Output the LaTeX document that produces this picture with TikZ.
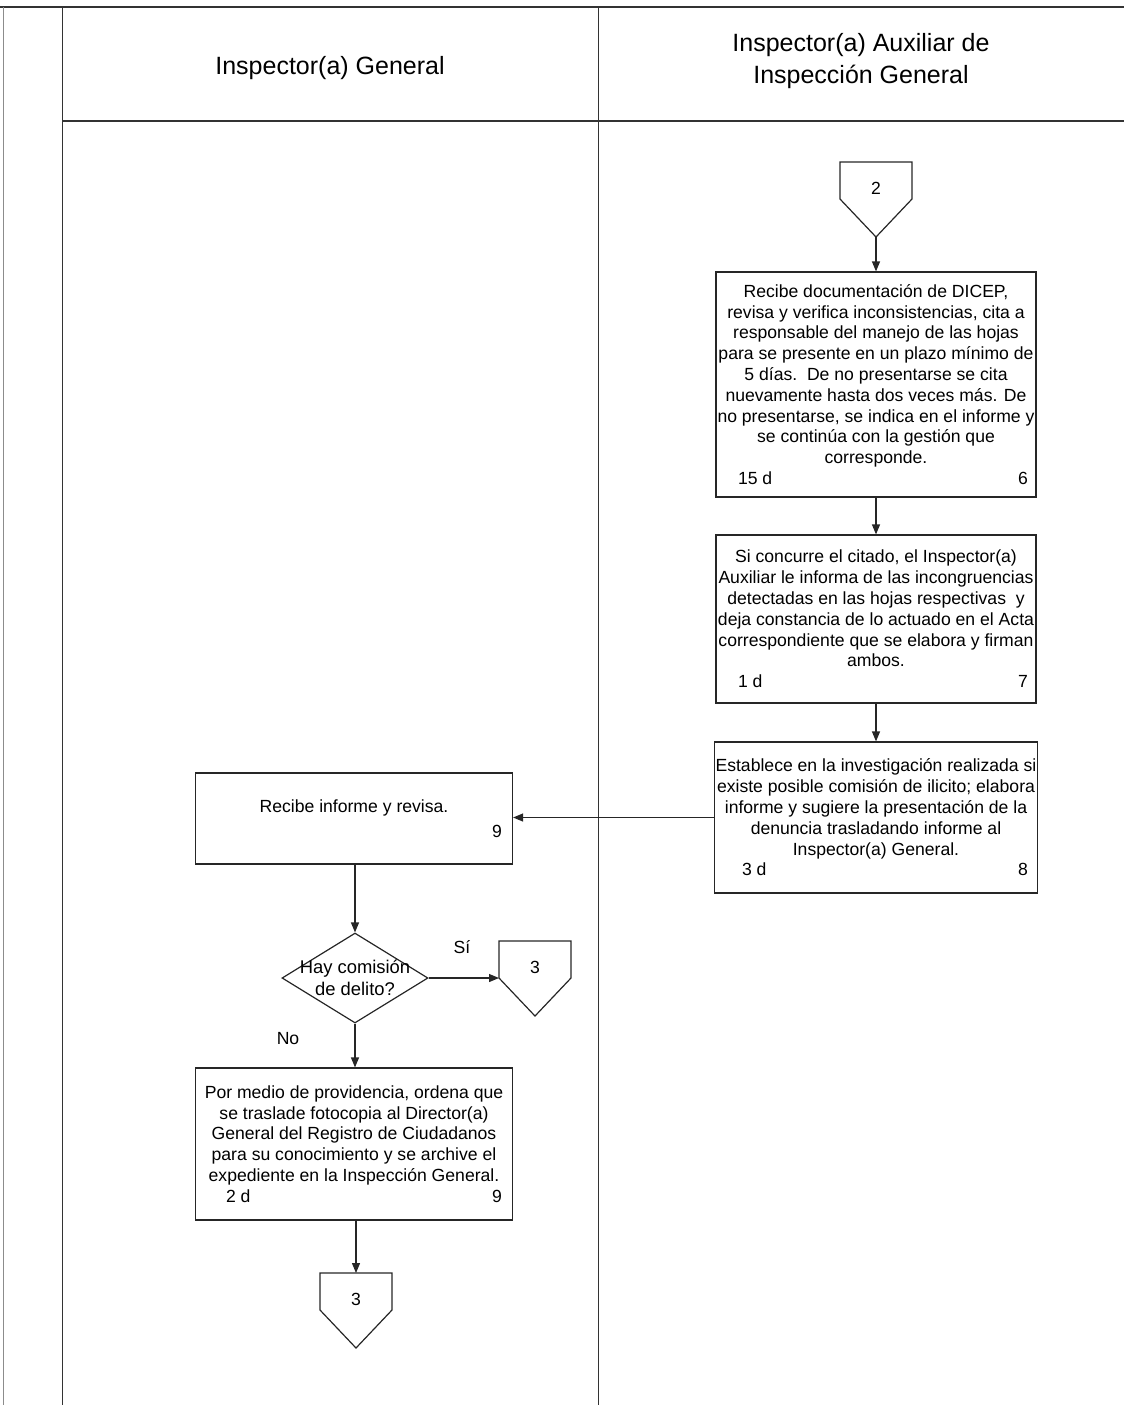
\documentclass[tikz,border=0pt]{standalone}
\usepackage{fontspec}
\setmainfont{Liberation Sans}
\usepackage{tikz}
\usetikzlibrary{arrows.meta}
\usetikzlibrary{shapes.geometric}

% off-page connector: name, centre x, top y, label
\newcommand{\offpage}[4]{%
  \draw[shape line] (#2-36,#3) -- (#2+36,#3) -- (#2+36,#3+37) -- (#2,#3+75) -- (#2-36,#3+37) -- cycle;
  \node[txt] (#1) at (#2,#3+26) {#4};
  \coordinate (#1 top) at (#2,#3);
  \coordinate (#1 left) at (#2-36,#3+37);
  \coordinate (#1 tip) at (#2,#3+75);
}
% last line of a box: time, step number
\newcommand{\stepline}[4]{\makebox[#1]{\hspace*{#2}#3\hfill #4\hspace*{3pt}}}

\begin{document}
\begin{tikzpicture}[x=0.5pt,y=-0.5pt]
\tikzset{shape line/.style={draw=black!85,line width=0.6pt}}
\tikzset{txt/.style={font=\fontsize{8.8}{10.4}\selectfont,inner sep=0pt}}
\tikzset{box/.style={shape line,align=center,inner xsep=0.5pt,inner ysep=0pt,
    minimum width=160pt,font=\fontsize{8.8}{10.4}\selectfont}}
\tikzset{flow/.style={draw=black!85,line width=0.6pt,-{Triangle[length=5pt,width=4pt]}}}
\tikzset{lane/.style={draw=black!80,line width=0.5pt}}
\tikzset{head/.style={font=\fontsize{12.5}{16}\selectfont,align=center}}
\useasboundingbox (0,0) rectangle (1124,1405);

% lanes
\draw[lane,line width=1.2pt] (0,7) -- (1124,7);
\draw[lane,line width=1pt] (62,121) -- (1124,121);
\draw[lane,draw=black!45,line width=0.4pt] (3,7) -- (3,1405);
\draw[lane] (62,7) -- (62,1405);
\draw[lane] (598,7) -- (598,1405);
\node[head] (lgen) at (330,68) {Inspector(a) General};
\node[head] (laux) at (861,61) {Inspector(a) Auxiliar de\\Inspección General};

% right lane
\offpage{c2}{876}{162}{2}
\node[box,minimum height=112.5pt] (b6) at (876,384.5) {Recibe documentación de  DICEP,\\
revisa y verifica inconsistencias, cita a\\
responsable del manejo de las hojas\\
para se presente en un plazo mínimo de\\
5 días.\ \ De no presentarse se cita\\
nuevamente hasta dos veces más. De\\
no presentarse, se indica en el informe y\\
se continúa con la gestión que\\
corresponde.\\
\stepline{158pt}{10pt}{15 d}{6}};
\node[box,minimum height=84pt] (b7) at (876,619) {Si concurre el citado, el Inspector(a)\\
Auxiliar le informa de las incongruencias\\
detectadas en las hojas respectivas\ \ y\\
deja constancia de lo actuado en el Acta\\
correspondiente que se elabora y firman\\
ambos.\\
\stepline{158pt}{10pt}{1 d}{7}};
\node[box,minimum height=75.5pt] (b8) at (876,817.5) {Establece en la investigación realizada si\\
existe posible comisión de ilicito; elabora\\
informe y sugiere la presentación de la\\
denuncia trasladando informe al\\
Inspector(a) General.\\
\stepline{158pt}{12pt}{3 d}{8}};

% left lane
\node[box,minimum height=45.5pt,minimum width=158.5pt] (b9) at (354,818.5) {Recibe informe y revisa.\\[2pt]
\stepline{156pt}{0pt}{}{9\hspace*{1pt}}};
\node[shape line,diamond,minimum width=73pt,minimum height=45pt,inner sep=0pt] (dec) at (355,978) {};
\node[txt,align=center,font=\fontsize{9.2}{10.8}\selectfont] (dectxt) at (dec) {Hay comisión\\de delito?};
\offpage{c3a}{535}{941}{3}
\node[box,minimum height=76pt,minimum width=158.5pt] (b9b) at (354,1144) {Por medio de providencia, ordena que\\
se traslade fotocopia al Director(a)\\
General del Registro de Ciudadanos\\
para su conocimiento y se archive el\\
expediente en la Inspección General.\\
\stepline{156pt}{14pt}{2 d}{9\hspace*{1pt}}};
\offpage{c3b}{356}{1273}{3}
\node[txt] (si) at (462,947) {Sí};
\node[txt] (no) at (288,1039) {No};

% connectors
\draw[flow] (c2 tip) -- (b6.north);
\draw[flow] (b6.south) -- (b7.north);
\draw[flow] (b7.south) -- (b8.north);
\draw[flow] (b8.west) -- (b8.west -| b9.east);
\draw[flow] (b9.south -| dec.north) -- (dec.north);
\draw[flow] (dec.east) -- (dec.east -| c3a left);
\draw[flow] (dec.south) -- (dec.south |- b9b.north);
\draw[flow] (b9b.south -| c3b top) -- (c3b top);
\end{tikzpicture}
\end{document}
